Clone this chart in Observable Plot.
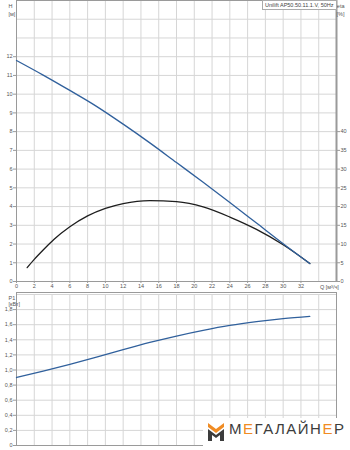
<!DOCTYPE html>
<html><head><meta charset="utf-8">
<script src="https://cdn.jsdelivr.net/npm/d3@7"></script>
<script src="https://cdn.jsdelivr.net/npm/@observablehq/plot@0.6"></script>
<style>
html,body{margin:0;padding:0;background:#fff;}
#wrap{position:relative;width:350px;height:450px;overflow:hidden;font-family:"Liberation Sans",Arial,sans-serif;}
#wrap svg{display:block;}
#title{position:absolute;left:262px;top:0;height:8px;line-height:8px;padding:0 2px;border:1px solid #aaa;background:#fff;font-size:5.5px;color:#444;white-space:nowrap;}
#logo{position:absolute;left:203px;top:418px;width:147px;height:32px;background:#fff;}
#logo .txt{position:absolute;left:26px;top:2px;font-size:15px;letter-spacing:1.5px;color:#3c3c3c;font-weight:normal;white-space:nowrap;}
#logo .txt span{color:#f08c24;}
</style></head>
<body>
<div id="wrap">
  <div id="topChart"></div>
  <div id="botChart"></div>
  <div id="title">Unilift AP50.50.11.1.V, 50Hz</div>
  <div id="logo">
    <svg width="20" height="22" style="position:absolute;left:3px;top:3px" viewBox="0 0 20 22">
      <path d="M2 2 L10 8 L18 2 L18 6 L10 12 L2 6 Z" fill="#f08c24"/>
      <path d="M2 8 L10 14 L18 8 L18 20 L14 20 L14 14 L10 17 L6 14 L6 20 L2 20 Z" fill="#3c3c3c"/>
    </svg>
    <div class="txt">М<span>Е</span>ГАЛАЙН<span>Е</span>Р</div>
  </div>
</div>
<script>
// Data
const qH   = [0, 3, 6, 9, 12, 15, 18, 21, 24, 27, 30, 33];
const headH = [11.8, 11.02, 10.2, 9.35, 8.4, 7.4, 6.35, 5.3, 4.22, 3.12, 2.02, 0.96];

const qEta = [1.2, 2, 3, 4.2, 6, 8, 10, 12, 15, 18, 21, 24, 27, 30, 33];
const eta  = [3.7, 5.9, 8.4, 11.2, 14.6, 17.5, 19.5, 20.8, 21.6, 21.3, 19.9, 17.2, 13.9, 9.8, 4.8];

const qP  = [0, 3, 6, 9, 12, 15, 18, 21, 24, 27, 30, 33];
const p1  = [0.90, 0.985, 1.075, 1.17, 1.27, 1.365, 1.45, 1.525, 1.59, 1.64, 1.68, 1.71];

const xTicks   = [0,2,4,6,8,10,12,14,16,18,20,22,24,26,28,30,32];
const xGrid    = d3.range(0, 37, 2);
const hTicks   = [0,1,2,3,4,5,6,7,8,9,10,11,12];
const hGrid    = d3.range(0, 16, 1);
const etaTicks = [0,5,10,15,20,25,30,35,40];
const pTicks   = [0,0.2,0.4,0.6,0.8,1.0,1.2,1.4,1.6,1.8];
const pGrid    = d3.range(0, 2.01, 0.2);

const blue = "#30609c", black = "#1e1e1e", gridC = "#d6d6d6", frameC = "#9a9a9a";
const style = {fontSize:"5.5px", fontFamily:"'Liberation Sans', Arial, sans-serif", color:"#555", background:"white", overflow:"visible"};

const headData = qH.map((q,i)=>({q, v: headH[i]}));
const etaData  = qEta.map((q,i)=>({q, v: eta[i]/5}));
const pData    = qP.map((q,i)=>({q, v: p1[i]}));

const topPlot = Plot.plot({
  width:350, height:292,
  marginLeft:16, marginRight:14, marginTop:0, marginBottom:11,
  x:{domain:[0,36]}, y:{domain:[0,15]},
  style,
  marks:[
    Plot.gridX(xGrid, {stroke:gridC, strokeOpacity:1}),
    Plot.gridY(hGrid, {stroke:gridC, strokeOpacity:1}),
    Plot.frame({stroke:frameC}),
    Plot.axisX(xTicks, {tickSize:2, tickPadding:1, label:null, stroke:frameC}),
    Plot.axisY(hTicks, {tickSize:3, tickPadding:1, label:null, stroke:frameC}),
    Plot.axisY(etaTicks.map(d=>d/5), {anchor:"right", tickSize:3, tickPadding:1, label:null, stroke:frameC, tickFormat:d=>Math.round(d*5)}),
    Plot.ruleX([36], {stroke:frameC, strokeWidth:2}),
    Plot.line(etaData, {x:"q", y:"v", stroke:black, strokeWidth:1.3, curve:"monotone-x"}),
    Plot.line(headData, {x:"q", y:"v", stroke:blue, strokeWidth:1.3, curve:"monotone-x"}),
    Plot.text(["Q [м³/ч]"], {x:35.2, y:0, dy:6, fill:"#555"}),
    Plot.text(["H"], {frameAnchor:"top-left", dx:-8, dy:4, fill:"#555"}),
    Plot.text(["[м]"], {frameAnchor:"top-left", dx:-8, dy:12, fill:"#555"}),
    Plot.text(["eta"], {frameAnchor:"top-right", dx:8, dy:4, fill:"#555"}),
    Plot.text(["[%]"], {frameAnchor:"top-right", dx:8, dy:12, fill:"#555"})
  ]
});
document.getElementById("topChart").append(topPlot);

const fmt = d => d === 0 ? "0" : d.toFixed(1).replace(".", ",");
const botPlot = Plot.plot({
  width:350, height:158,
  marginLeft:16, marginRight:14, marginTop:2, marginBottom:5,
  x:{domain:[0,36], axis:null}, y:{domain:[0,2]},
  style,
  marks:[
    Plot.gridX(xGrid, {stroke:gridC, strokeOpacity:1}),
    Plot.gridY(pGrid, {stroke:gridC, strokeOpacity:1}),
    Plot.frame({stroke:frameC, insetTop:-2}),
    Plot.axisY(pTicks, {tickSize:3, tickPadding:1, label:null, stroke:frameC, tickFormat:fmt}),
    Plot.line(pData, {x:"q", y:"v", stroke:blue, strokeWidth:1.3, curve:"monotone-x"}),
    Plot.text(["P1"], {frameAnchor:"top-left", dx:-8, dy:2, fill:"#555"}),
    Plot.text(["[кВт]"], {frameAnchor:"top-left", dx:-8, dy:8, fill:"#555"})
  ]
});
document.getElementById("botChart").append(botPlot);
</script>
</body></html>
